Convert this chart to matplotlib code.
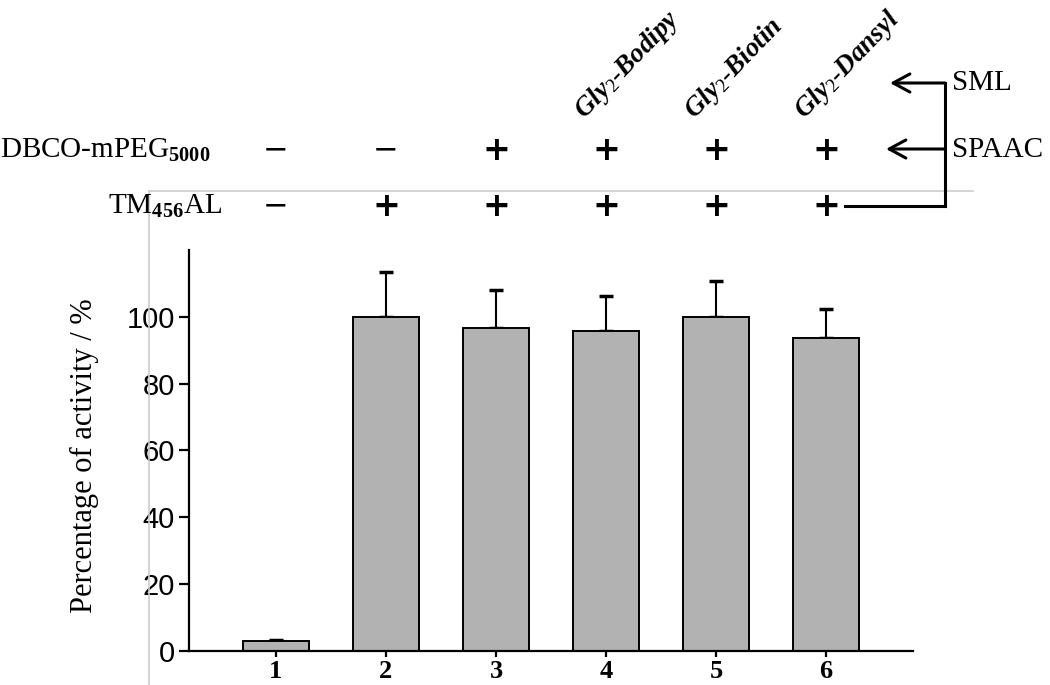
import matplotlib
matplotlib.use("Agg")
import matplotlib.pyplot as plt
import matplotlib.transforms as mtransforms
import matplotlib.patches as mpatches
import numpy as np

plt.rcParams["mathtext.fontset"] = "custom"
plt.rcParams["mathtext.rm"] = "Liberation Serif"
plt.rcParams["mathtext.bf"] = "Liberation Serif:bold"
plt.rcParams["mathtext.it"] = "Liberation Serif:italic"

# ---- data ----
lanes = [1, 2, 3, 4, 5, 6]
activity = [2.8, 100.0, 96.5, 95.8, 100.0, 93.7]
errors = [0.4, 13.4, 11.5, 10.4, 10.6, 8.5]
yticks = [0, 20, 40, 60, 80, 100]
dbco = ["−", "−", "+", "+", "+", "+"]
tm = ["−", "+", "+", "+", "+", "+"]
probes = {4: "Gly$_2$-Bodipy", 5: "Gly$_2$-Biotin", 6: "Gly$_2$-Dansyl"}

W, H = 1050, 685
fig = plt.figure(figsize=(W / 100, H / 100), dpi=100)

def fy(py):
    return 1 - py / H

def fx(px):
    return px / W

ax = fig.add_axes([fx(189), fy(650.7), fx(913) - fx(189), fy(250) - fy(650.7)])

ax.bar(lanes, activity, width=0.6, color="#b2b2b2", edgecolor="black", linewidth=1.4, zorder=2)
ax.errorbar(lanes, activity, yerr=[np.zeros(len(errors)), errors], fmt="none",
            ecolor="black", elinewidth=1.5, capsize=5, capthick=2.5, zorder=1)

ax.set_xlim(0.21, 6.79)
ax.set_ylim(0, 120)
ax.set_yticks(yticks)
ax.set_xticks(lanes)
ax.set_xticklabels([str(v) for v in lanes], fontfamily="Liberation Serif",
                   fontweight="bold", fontsize=19)
ax.set_yticklabels([str(v) for v in yticks], fontfamily="Liberation Sans", fontsize=21)
for s in ["top", "right"]:
    ax.spines[s].set_visible(False)
for s in ["left", "bottom"]:
    ax.spines[s].set_linewidth(1.6)
ax.tick_params(axis="y", length=7, width=1.6, pad=3)
ax.tick_params(axis="x", length=4.5, width=1.6, pad=2)

fig.text(fx(84), fy(456), "Percentage of activity / %", rotation=90, ha="center",
         va="center", fontfamily="Liberation Serif", fontsize=22)

# light gray table lines
fig.add_artist(plt.Line2D([fx(149), fx(973)], [fy(191), fy(191)], color="#cccccc", lw=1.2))
fig.add_artist(plt.Line2D([fx(149), fx(149)], [fy(191), fy(685)], color="#cccccc", lw=1.2))

# annotation rows (x in data coords, y in figure coords)
blend = mtransforms.blended_transform_factory(ax.transData, fig.transFigure)
row_y = {"dbco": fy(150), "tm": fy(206)}
for i, lane in enumerate(lanes):
    for key, vals in (("dbco", dbco), ("tm", tm)):
        s = vals[i]
        if s == "+":
            fig.text(lane, row_y[key], s, transform=blend, ha="center", va="center",
                     fontfamily="DejaVu Sans", fontweight="bold", fontsize=24)
        else:
            fig.text(lane, row_y[key], s, transform=blend, ha="center", va="center",
                     fontfamily="DejaVu Sans", fontsize=22)

fig.text(fx(0), fy(150), r"DBCO-mPEG$_{\mathbf{5000}}$", ha="left", va="center",
         fontfamily="Liberation Serif", fontsize=21)
fig.text(fx(108), fy(206), r"TM$_{\mathbf{456}}$AL", ha="left", va="center",
         fontfamily="Liberation Serif", fontsize=21)

off = mtransforms.offset_copy(blend, fig=fig, x=-22, y=0, units="dots")
for lane, label in probes.items():
    fig.text(lane, fy(119), label, transform=off, rotation=46, rotation_mode="anchor",
             ha="left", va="baseline", fontfamily="Liberation Serif", fontweight="bold",
             fontstyle="italic", fontsize=19.5)

# right-side bracket with arrows
lw = 2.2
fig.add_artist(plt.Line2D([fx(845), fx(945)], [fy(206), fy(206)], color="black", lw=lw))
fig.add_artist(plt.Line2D([fx(945), fx(945)], [fy(206), fy(83)], color="black", lw=lw))
for py, tip in ((83, 890), (149, 886)):
    fig.add_artist(mpatches.FancyArrowPatch(
        (fx(945), fy(py)), (fx(tip), fy(py)), transform=fig.transFigure,
        arrowstyle="->,head_length=12,head_width=6.5", color="black", lw=lw,
        shrinkA=0, shrinkB=0))
fig.text(fx(952), fy(83), "SML", ha="left", va="center",
         fontfamily="Liberation Serif", fontsize=21)
fig.text(fx(952), fy(150), "SPAAC", ha="left", va="center",
         fontfamily="Liberation Serif", fontsize=21)

fig.savefig("out.png", dpi=100)
